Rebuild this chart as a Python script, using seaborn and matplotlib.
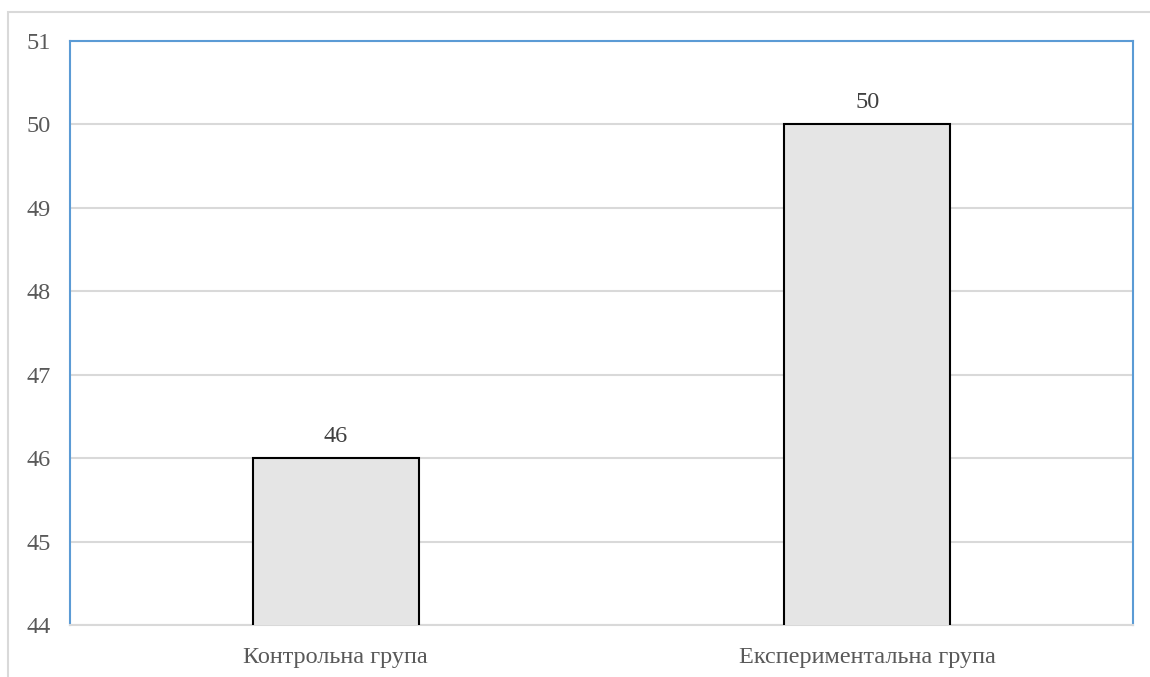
import matplotlib
matplotlib.use("Agg")
import matplotlib.pyplot as plt
import seaborn as sns
import pandas as pd
from matplotlib.patches import Rectangle

groups = ["Контрольна група", "Експериментальна група"]
scores = [46, 50]
y_ticks = [44, 45, 46, 47, 48, 49, 50, 51]

sns.set_theme(style="white")
plt.rcParams["font.family"] = ["Liberation Serif", "DejaVu Serif"]

df = pd.DataFrame({"group": groups, "score": scores})

fig = plt.figure(figsize=(11.5, 6.77), dpi=100)
ax = fig.add_axes([0.0609, 0.0768, 0.9243, 0.8626])

# light frame around the chart area
fig.patches.append(Rectangle((8 / 1150, -0.01), 1.05, 1 - 12 / 677 + 0.01,
                             transform=fig.transFigure, fill=False,
                             edgecolor="#d9d9d9", linewidth=1.5, zorder=0))

sns.barplot(data=df, x="group", y="score", ax=ax, width=0.312,
            color="#e5e5e5", edgecolor="black", linewidth=1.5,
            saturation=1, zorder=3)

ax.set_ylim(44, 51)
ax.set_xlim(-0.5, 1.5)
ax.set_yticks(y_ticks)
ax.yaxis.grid(True, color="#d9d9d9", linewidth=1.5, zorder=0)
ax.set_axisbelow(True)
ax.set_xlabel("")
ax.set_ylabel("")
ax.tick_params(axis="both", length=0, labelsize=17.5, labelcolor="#595959")
ax.tick_params(axis="y", pad=14)
ax.tick_params(axis="x", pad=16)

for side in ("left", "top", "right"):
    ax.spines[side].set_color("#5b9bd5")
    ax.spines[side].set_linewidth(1.5)
ax.spines["bottom"].set_color("#d9d9d9")
ax.spines["bottom"].set_linewidth(1.5)

for container in ax.containers:
    ax.bar_label(container, labels=[str(v) for v in scores], padding=8,
                 fontsize=17.5, color="#404040")

fig.savefig("out.png", dpi=100)
